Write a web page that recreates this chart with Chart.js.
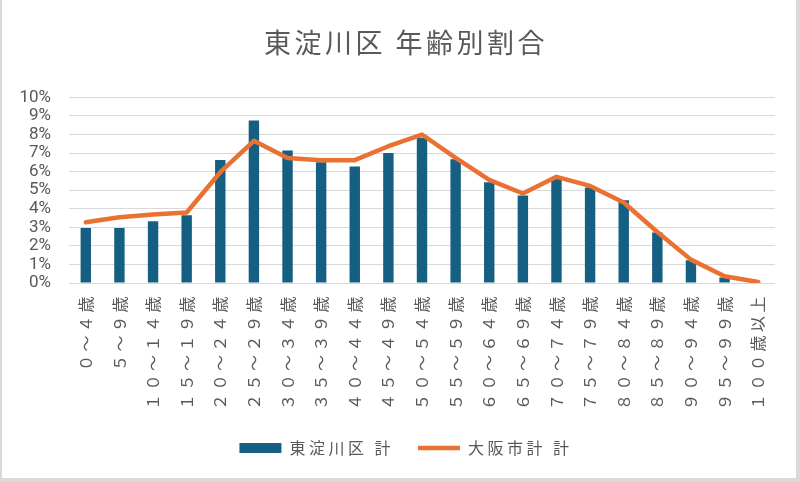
<!DOCTYPE html>
<html><head><meta charset="utf-8">
<style>
html,body{margin:0;padding:0;background:#fff;}
#wrap{position:relative;width:800px;height:481px;overflow:hidden;}
canvas{display:block;}
#frame{position:absolute;left:0;top:0;width:800px;height:481px;box-sizing:border-box;border-left:2px solid #dadada;border-right:4px solid #dadada;border-bottom:3px solid #dadada;pointer-events:none;}
</style>
<script src="https://cdn.jsdelivr.net/npm/chart.js@4"></script>
</head>
<body>
<div id="wrap"><canvas id="c" width="800" height="481"></canvas><div id="frame"></div></div>
<script>
const chartTitle = '東淀川区 年齢別割合';
const categories = ['０～４歳','５～９歳','１０～１４歳','１５～１９歳','２０～２４歳','２５～２９歳','３０～３４歳','３５～３９歳','４０～４４歳','４５～４９歳','５０～５４歳','５５～５９歳','６０～６４歳','６５～６９歳','７０～７４歳','７５～７９歳','８０～８４歳','８５～８９歳','９０～９４歳','９５～９９歳','１００歳以上'];
const seriesNames = ['東淀川区 計', '大阪市計 計'];
const wardValues = [2.97, 2.97, 3.33, 3.65, 6.63, 8.76, 7.14, 6.51, 6.28, 7.01, 7.82, 6.67, 5.43, 4.71, 5.61, 5.15, 4.46, 2.72, 1.22, 0.29, 0.03];
const cityValues = [3.27, 3.54, 3.69, 3.80, 5.97, 7.66, 6.74, 6.62, 6.62, 7.37, 8.00, 6.74, 5.56, 4.82, 5.72, 5.23, 4.34, 2.75, 1.26, 0.36, 0.05];
const yTickMax = 10;
const yTickStep = 1;

const TEXT = '#595959';
const CJK = '"Noto Sans CJK JP", "Noto Sans", sans-serif';
const SPACING = '3.5px';

const spacingPlugin = {
  id: 'spacing',
  beforeUpdate(c) { c.ctx.letterSpacing = SPACING; },
  beforeDraw(c) { c.ctx.letterSpacing = SPACING; }
};

new Chart(document.getElementById('c'), {
  data: {
    labels: categories,
    datasets: [
      {
        type: 'bar',
        label: seriesNames[0],
        data: wardValues,
        backgroundColor: '#156082',
        borderWidth: 0,
        barPercentage: 0.31,
        categoryPercentage: 1.0,
        order: 2,
        pointStyle: 'rect'
      },
      {
        type: 'line',
        label: seriesNames[1],
        data: cityValues,
        borderColor: '#E97132',
        backgroundColor: '#E97132',
        borderWidth: 4.5,
        tension: 0,
        pointRadius: 0,
        borderJoinStyle: 'round',
        borderCapStyle: 'round',
        order: 1,
        pointStyle: 'line'
      }
    ]
  },
  options: {
    responsive: false,
    animation: false,
    devicePixelRatio: 1,
    layout: { padding: { left: 12, right: 0, top: 0, bottom: 15 } },
    plugins: {
      tooltip: { enabled: false },
      title: {
        display: true,
        text: chartTitle,
        color: TEXT,
        font: { family: CJK, size: 27, weight: 'normal' },
        padding: { top: 27, bottom: 38 }
      },
      legend: {
        display: true,
        position: 'bottom',
        labels: {
          usePointStyle: true,
          pointStyleWidth: 42,
          boxHeight: 10,
          padding: 24,
          color: TEXT,
          font: { family: CJK, size: 16 },
          sort: (a, b) => a.datasetIndex - b.datasetIndex
        }
      }
    },
    scales: {
      x: {
        grid: { display: false, drawTicks: false },
        border: { display: false },
        ticks: {
          autoSkip: false,
          maxRotation: 90,
          minRotation: 90,
          padding: 10,
          color: TEXT,
          font: { family: CJK, size: 16 }
        },
        afterFit(s) { s.height = 133; }
      },
      y: {
        min: 0,
        max: yTickMax,
        grid: { color: '#d9d9d9', lineWidth: 1, drawTicks: false },
        border: { display: false },
        ticks: {
          autoSkip: false,
          stepSize: yTickStep,
          padding: 18,
          color: TEXT,
          font: { family: 'Roboto, "Noto Sans", sans-serif', size: 17 },
          callback: v => v + '%'
        },
        afterFit(s) {
          s.width = 57;
          if (!s._plainLabels) {
            s._plainLabels = true;
            const base = Object.getPrototypeOf(s).drawLabels;
            s.drawLabels = function (area) {
              const ctx = this.ctx;
              const prev = ctx.letterSpacing;
              ctx.letterSpacing = '0px';
              base.call(this, area);
              ctx.letterSpacing = prev;
            };
          }
        }
      },
      y2: {
        position: 'right',
        display: true,
        grid: { display: false, drawTicks: false },
        border: { display: false },
        ticks: { display: false },
        afterFit(s) { s.width = 25; }
      }
    }
  },
  plugins: [spacingPlugin]
});
</script>
</body></html>
